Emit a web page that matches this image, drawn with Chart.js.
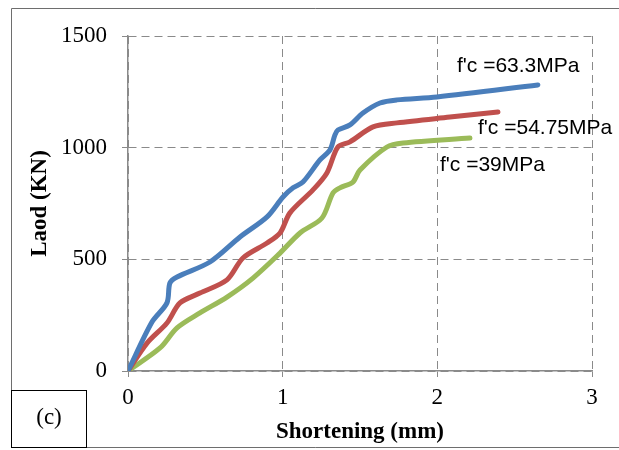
<!DOCTYPE html>
<html>
<head>
<meta charset="utf-8">
<script src="https://cdn.jsdelivr.net/npm/chart.js@4"></script>
<style>
  html, body { margin: 0; padding: 0; background: #fff; }
  canvas { display: block; }
</style>
</head>
<body>
<canvas id="loadChart" width="619" height="450"></canvas>
<script>
    'use strict';

    // shortening (mm) / load (kN)
    var shortening63 = [0, 0.155, 0.252, 0.271, 0.317, 0.53, 0.724, 0.899, 1.002, 1.067, 1.131, 1.241, 1.306, 1.338, 1.357, 1.435, 1.519, 1.629, 1.739, 1.997, 2.65];
    var load63 = [0, 219, 305, 394, 421, 488, 600, 690, 779, 820, 846, 945, 990, 1057, 1079, 1102, 1155, 1200, 1214, 1227, 1281];

    var shortening54 = [0, 0.123, 0.252, 0.336, 0.465, 0.64, 0.743, 0.899, 0.983, 1.047, 1.196, 1.286, 1.357, 1.435, 1.584, 1.739, 2.081, 2.392];
    var load54 = [0, 125, 215, 305, 349, 408, 506, 573, 618, 708, 811, 887, 1003, 1026, 1093, 1111, 1137, 1160];

    var shortening39 = [0, 0.207, 0.317, 0.465, 0.64, 0.808, 0.983, 1.112, 1.254, 1.325, 1.37, 1.454, 1.5, 1.674, 1.778, 2.211];
    var load39 = [0, 103, 193, 260, 331, 416, 528, 618, 685, 797, 820, 846, 900, 1003, 1021, 1043];

    var seriesLabels = ["f'c =63.3MPa", "f'c =54.75MPa", "f'c =39MPa"];
    var xTicks = [0, 1, 2, 3];
    var yTicks = [0, 500, 1000, 1500];

    var toPoints = function (xs, ys) {
        return xs.map(function (x, i) { return {x: x, y: ys[i]}; });
    };

    // where each curve label sits (data units, left/baseline of text)
    var labelAnchors = [
        {x: 2.127, y: 1339},
        {x: 2.263, y: 1061},
        {x: 2.017, y: 896}
    ];

    var serif = "'Liberation Serif', 'Times New Roman', serif";
    var gridGrey = '#8a8a8a';

    var frame = {
        id: 'frame',
        beforeDraw: function (chart) {
            var ctx = chart.ctx;
            ctx.save();
            ctx.fillStyle = '#fff';
            ctx.fillRect(0, 0, chart.width, chart.height);
            ctx.strokeStyle = '#6e6e6e';
            ctx.lineWidth = 1;
            ctx.beginPath();
            ctx.moveTo(619, 8.5);
            ctx.lineTo(11.5, 8.5);
            ctx.lineTo(11.5, 447.5);
            ctx.lineTo(619, 447.5);
            ctx.stroke();
            ctx.restore();
        },
        afterDraw: function (chart) {
            var ctx = chart.ctx;
            var xs = chart.scales.x, ys = chart.scales.y;
            ctx.save();
            ctx.font = "21px 'Liberation Sans', Arial, sans-serif";
            ctx.fillStyle = '#000';
            ctx.textBaseline = 'alphabetic';
            ctx.textAlign = 'left';
            seriesLabels.forEach(function (txt, i) {
                ctx.fillText(txt, xs.getPixelForValue(labelAnchors[i].x), ys.getPixelForValue(labelAnchors[i].y));
            });
            // panel tag
            ctx.strokeStyle = '#000';
            ctx.lineWidth = 1;
            ctx.strokeRect(11.5, 390.5, 75, 57);
            ctx.font = '23px ' + serif;
            ctx.textAlign = 'center';
            ctx.textBaseline = 'middle';
            ctx.fillText('(c)', 49, 418);
            ctx.restore();
        }
    };

    var lineSet = function (label, xs, ys, colour) {
        return {
            label: label,
            data: toPoints(xs, ys),
            showLine: true,
            borderColor: colour,
            backgroundColor: colour,
            borderWidth: 5,
            borderCapStyle: 'round',
            borderJoinStyle: 'round',
            pointRadius: 0,
            tension: 0.3,
            fill: false
        };
    };

    var chartElement = document.getElementById('loadChart').getContext('2d');
    var chartObject = new Chart(chartElement, {
        type: 'scatter',
        data: {
            datasets: [
                lineSet(seriesLabels[0], shortening63, load63, '#4a7ebb'),
                lineSet(seriesLabels[1], shortening54, load54, '#c0504d'),
                lineSet(seriesLabels[2], shortening39, load39, '#9bbb59')
            ]
        },
        options: {
            responsive: false,
            animation: false,
            layout: {padding: {left: 0, right: 27, top: 36, bottom: 0}},
            plugins: {legend: {display: false}, tooltip: {enabled: false}},
            scales: {
                x: {
                    type: 'linear',
                    min: 0,
                    max: 3,
                    afterBuildTicks: function (scale) {
                        scale.ticks = xTicks.map(function (v) { return {value: v}; });
                    },
                    afterFit: function (scale) { scale.height = 79; },
                    ticks: {color: '#000', font: {family: serif, size: 23}, padding: 7, maxRotation: 0,
                        callback: function (v) { return String(v); }},
                    grid: {color: gridGrey, lineWidth: 1, tickLength: 6, tickColor: gridGrey, tickBorderDash: []},
                    border: {color: gridGrey, width: 1.5, dash: [8, 5]},
                    title: {
                        display: true,
                        text: 'Shortening (mm)',
                        color: '#000',
                        font: {family: serif, size: 23, weight: 'bold'},
                        padding: {top: 0, bottom: 4}
                    }
                },
                y: {
                    type: 'linear',
                    min: 0,
                    max: 1500,
                    afterBuildTicks: function (scale) {
                        scale.ticks = yTicks.map(function (v) { return {value: v}; });
                    },
                    afterFit: function (scale) { scale.width = 128; },
                    ticks: {color: '#000', font: {family: serif, size: 23}, padding: 15,
                        callback: function (v) { return String(v); }},
                    grid: {color: gridGrey, lineWidth: 1, tickLength: 6, tickColor: gridGrey, tickBorderDash: []},
                    border: {color: gridGrey, width: 1.5, dash: [8, 5]},
                    title: {
                        display: true,
                        text: 'Laod (KN)',
                        color: '#000',
                        font: {family: serif, size: 23, weight: 'bold'},
                        padding: {top: 26, bottom: 0}
                    }
                }
            }
        },
        plugins: [frame]
    });
</script>
</body>
</html>
